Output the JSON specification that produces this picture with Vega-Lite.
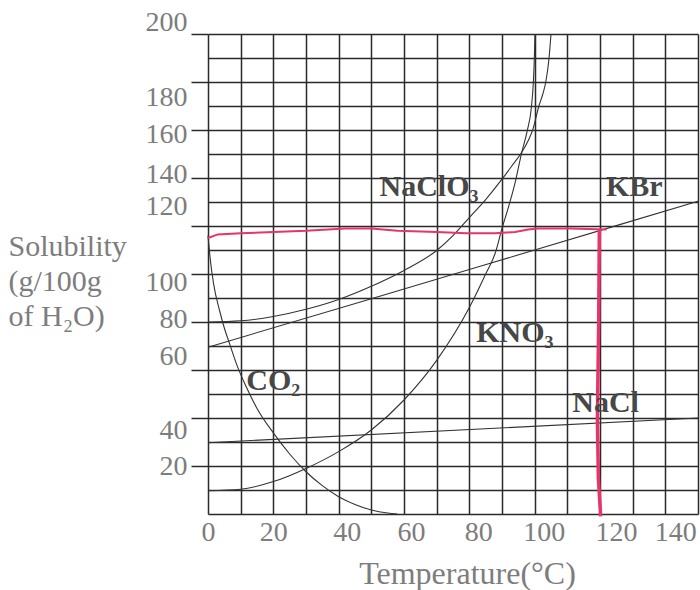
{
  "$schema": "https://vega.github.io/schema/vega-lite/v6.json",
  "width": 490,
  "height": 480,
  "autosize": "none",
  "padding": {"left": 208, "top": 34, "right": 2, "bottom": 76},
  "background": "white",
  "config": {"view": {"stroke": null}},
  "datasets": {
    "curves": [
      {"sp": "NaClO3", "i": 0, "t": 0, "s": 80},
      {"sp": "NaClO3", "i": 1, "t": 10, "s": 80.5},
      {"sp": "NaClO3", "i": 2, "t": 20, "s": 82.3},
      {"sp": "NaClO3", "i": 3, "t": 30, "s": 85.3},
      {"sp": "NaClO3", "i": 4, "t": 40, "s": 89.4},
      {"sp": "NaClO3", "i": 5, "t": 50, "s": 94.9},
      {"sp": "NaClO3", "i": 6, "t": 60, "s": 101.5},
      {"sp": "NaClO3", "i": 7, "t": 70, "s": 109.8},
      {"sp": "NaClO3", "i": 8, "t": 75, "s": 116},
      {"sp": "NaClO3", "i": 9, "t": 80, "s": 123.5},
      {"sp": "NaClO3", "i": 10, "t": 85, "s": 131},
      {"sp": "NaClO3", "i": 11, "t": 90, "s": 139.5},
      {"sp": "NaClO3", "i": 12, "t": 93, "s": 145},
      {"sp": "NaClO3", "i": 13, "t": 96, "s": 150.6},
      {"sp": "NaClO3", "i": 14, "t": 98, "s": 155.5},
      {"sp": "NaClO3", "i": 15, "t": 99.5, "s": 160.5},
      {"sp": "NaClO3", "i": 16, "t": 101.3, "s": 170},
      {"sp": "NaClO3", "i": 17, "t": 102.5, "s": 175},
      {"sp": "NaClO3", "i": 18, "t": 103.4, "s": 180},
      {"sp": "NaClO3", "i": 19, "t": 104.4, "s": 190},
      {"sp": "NaClO3", "i": 20, "t": 105, "s": 200},
      {"sp": "KNO3", "i": 0, "t": 0, "s": 9.7},
      {"sp": "KNO3", "i": 1, "t": 10, "s": 10.3},
      {"sp": "KNO3", "i": 2, "t": 20, "s": 13.5},
      {"sp": "KNO3", "i": 3, "t": 30, "s": 19},
      {"sp": "KNO3", "i": 4, "t": 40, "s": 26},
      {"sp": "KNO3", "i": 5, "t": 50, "s": 35},
      {"sp": "KNO3", "i": 6, "t": 60, "s": 47.5},
      {"sp": "KNO3", "i": 7, "t": 70, "s": 64},
      {"sp": "KNO3", "i": 8, "t": 80, "s": 86},
      {"sp": "KNO3", "i": 9, "t": 85, "s": 100},
      {"sp": "KNO3", "i": 10, "t": 88, "s": 109},
      {"sp": "KNO3", "i": 11, "t": 90, "s": 119},
      {"sp": "KNO3", "i": 12, "t": 92, "s": 128},
      {"sp": "KNO3", "i": 13, "t": 94, "s": 138},
      {"sp": "KNO3", "i": 14, "t": 96, "s": 150.4},
      {"sp": "KNO3", "i": 15, "t": 97.7, "s": 159.5},
      {"sp": "KNO3", "i": 16, "t": 99, "s": 169.5},
      {"sp": "KNO3", "i": 17, "t": 99.6, "s": 180},
      {"sp": "KNO3", "i": 18, "t": 99.9, "s": 190},
      {"sp": "KNO3", "i": 19, "t": 100.1, "s": 200},
      {"sp": "CO2", "i": 0, "t": 0, "s": 116},
      {"sp": "CO2", "i": 1, "t": 0.7, "s": 106},
      {"sp": "CO2", "i": 2, "t": 1.7, "s": 96},
      {"sp": "CO2", "i": 3, "t": 3.5, "s": 85},
      {"sp": "CO2", "i": 4, "t": 5, "s": 77.5},
      {"sp": "CO2", "i": 5, "t": 6.6, "s": 71},
      {"sp": "CO2", "i": 6, "t": 9, "s": 61.5},
      {"sp": "CO2", "i": 7, "t": 11.7, "s": 53},
      {"sp": "CO2", "i": 8, "t": 15, "s": 44},
      {"sp": "CO2", "i": 9, "t": 20, "s": 33.8},
      {"sp": "CO2", "i": 10, "t": 25, "s": 25},
      {"sp": "CO2", "i": 11, "t": 30, "s": 17.6},
      {"sp": "CO2", "i": 12, "t": 35, "s": 11.8},
      {"sp": "CO2", "i": 13, "t": 40, "s": 7.2},
      {"sp": "CO2", "i": 14, "t": 45, "s": 4},
      {"sp": "CO2", "i": 15, "t": 50, "s": 1.7},
      {"sp": "CO2", "i": 16, "t": 55, "s": 0.4},
      {"sp": "CO2", "i": 17, "t": 58, "s": 0},
      {"sp": "KBr", "i": 0, "t": 0, "s": 69.5},
      {"sp": "KBr", "i": 1, "t": 50, "s": 89.7},
      {"sp": "KBr", "i": 2, "t": 100, "s": 110},
      {"sp": "KBr", "i": 3, "t": 150, "s": 130.3},
      {"sp": "NaCl", "i": 0, "t": 0, "s": 29.7},
      {"sp": "NaCl", "i": 1, "t": 150, "s": 40}
    ],
    "redH": [
      {"i": 0, "t": 0, "s": 115},
      {"i": 1, "t": 3, "s": 116.5},
      {"i": 2, "t": 10, "s": 117},
      {"i": 3, "t": 20, "s": 117.5},
      {"i": 4, "t": 30, "s": 118},
      {"i": 5, "t": 42, "s": 119},
      {"i": 6, "t": 50, "s": 119},
      {"i": 7, "t": 58, "s": 118},
      {"i": 8, "t": 70, "s": 117.5},
      {"i": 9, "t": 79, "s": 117},
      {"i": 10, "t": 88, "s": 117},
      {"i": 11, "t": 94, "s": 117.5},
      {"i": 12, "t": 98, "s": 118.5},
      {"i": 13, "t": 101, "s": 119},
      {"i": 14, "t": 111, "s": 119},
      {"i": 15, "t": 122, "s": 118.5}
    ],
    "redV": [
      {"i": 0, "t": 119.8, "s": 118.5},
      {"i": 1, "t": 119.6, "s": 80},
      {"i": 2, "t": 119.2, "s": 40},
      {"i": 3, "t": 119.5, "s": 15},
      {"i": 4, "t": 120.2, "s": -1}
    ],
    "labels": [
      {"name": "NaClO₃", "t": 52.5, "s": 132.6},
      {"name": "KBr", "t": 121.8, "s": 132.3},
      {"name": "KNO₃", "t": 82.1, "s": 71.8},
      {"name": "NaCl", "t": 111.5, "s": 42.5},
      {"name": "CO₂", "t": 11.7, "s": 51.7}
    ]
  },
  "layer": [
    {
      "data": {"name": "curves"},
      "mark": {"type": "line", "color": "#333333", "strokeWidth": 1.1, "interpolate": "monotone"},
      "encoding": {
        "x": {
          "field": "t", "type": "quantitative",
          "scale": {"domain": [0, 150], "nice": false, "zero": false},
          "axis": {
            "values": [0, 10, 20, 30, 40, 50, 60, 70, 80, 90, 100, 110, 120, 130, 140, 150],
            "tickCount": 40,
            "labelExpr": "datum.value % 20 == 0 && datum.value < 150 ? datum.label : ''",
            "grid": true, "gridColor": "#2a2a2a", "gridWidth": 1.5,
            "ticks": false, "domain": false,
            "labelFont": "Liberation Serif", "labelFontSize": 28, "labelColor": "#7d7d7d",
            "labelPadding": 4, "labelFlush": false, "labelOverlap": false,
            "labelOffset": {"condition": [
              {"test": "datum.value == 40", "value": 8},
              {"test": "datum.value == 60", "value": 7},
              {"test": "datum.value == 80", "value": 9},
              {"test": "datum.value == 100", "value": 9},
              {"test": "datum.value == 120", "value": 16},
              {"test": "datum.value == 140", "value": 10}
            ], "value": 0},
            "title": "Temperature(°C)",
            "titleFont": "Liberation Serif", "titleFontSize": 32, "titleFontWeight": "normal",
            "titleColor": "#7d7d7d", "titleX": 259, "titleY": 69,
            "titleAlign": "center", "titleBaseline": "alphabetic"
          }
        },
        "y": {
          "field": "s", "type": "quantitative",
          "scale": {"domain": [0, 200], "nice": false, "zero": false},
          "axis": {
            "values": [0, 10, 20, 30, 40, 50, 60, 70, 80, 90, 100, 110, 120, 130, 140, 150, 160, 170, 180, 190, 200],
            "tickCount": 40,
            "labelExpr": "datum.value % 20 == 0 && datum.value > 0 ? datum.label : ''",
            "grid": true, "gridColor": "#2a2a2a", "gridWidth": 1.5,
            "ticks": true, "tickSize": 17, "tickColor": "#2a2a2a", "tickWidth": 1.5,
            "tickOpacity": {"condition": {"test": "datum.value % 20 == 0 && datum.value > 0", "value": 1}, "value": 0},
            "domain": false,
            "labelFont": "Liberation Serif", "labelFontSize": 28, "labelColor": "#7d7d7d",
            "labelPadding": 4, "labelFlush": false, "labelOverlap": false,
            "labelOffset": {"condition": [
              {"test": "datum.value == 200", "value": -12},
              {"test": "datum.value == 180", "value": 15},
              {"test": "datum.value == 160", "value": 4},
              {"test": "datum.value == 140", "value": -4},
              {"test": "datum.value == 120", "value": -20},
              {"test": "datum.value == 100", "value": 8},
              {"test": "datum.value == 80", "value": -3},
              {"test": "datum.value == 60", "value": -14},
              {"test": "datum.value == 40", "value": 12}
            ], "value": 0},
            "title": ["Solubility", "(g/100g", "of H₂O)"],
            "titleFont": "Liberation Serif", "titleFontSize": 30, "titleFontWeight": "normal",
            "titleColor": "#7d7d7d", "titleAngle": 0, "titleAlign": "left",
            "titleBaseline": "alphabetic", "titleX": -200, "titleY": 221, "titleLineHeight": 35
          }
        },
        "detail": {"field": "sp"},
        "order": {"field": "i", "type": "quantitative"}
      }
    },
    {
      "data": {"name": "redH"},
      "mark": {"type": "line", "color": "#e8336b", "strokeWidth": 2},
      "encoding": {
        "x": {"field": "t", "type": "quantitative"},
        "y": {"field": "s", "type": "quantitative"},
        "order": {"field": "i", "type": "quantitative"}
      }
    },
    {
      "data": {"name": "redV"},
      "mark": {"type": "line", "color": "#e8336b", "strokeWidth": 3.5},
      "encoding": {
        "x": {"field": "t", "type": "quantitative"},
        "y": {"field": "s", "type": "quantitative"},
        "order": {"field": "i", "type": "quantitative"}
      }
    },
    {
      "data": {"name": "labels"},
      "mark": {"type": "text", "align": "left", "baseline": "alphabetic", "font": "Liberation Serif", "fontWeight": "bold", "fontSize": 30, "color": "#474747"},
      "encoding": {
        "x": {"field": "t", "type": "quantitative"},
        "y": {"field": "s", "type": "quantitative"},
        "text": {"field": "name"}
      }
    }
  ]
}
